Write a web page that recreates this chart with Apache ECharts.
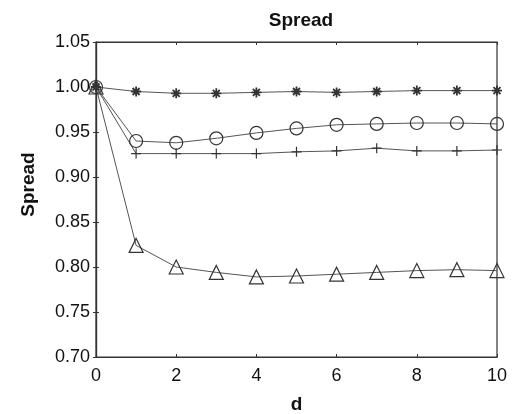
<!DOCTYPE html>
<html>
<head>
<meta charset="utf-8">
<script src="https://cdn.jsdelivr.net/npm/echarts@6/dist/echarts.min.js"></script>
<style>html,body{margin:0;padding:0;background:#fff}#c{width:512px;height:414px}</style>
</head>
<body>
<div id="c"></div>
<script>
var dValues = [0, 1, 2, 3, 4, 5, 6, 7, 8, 9, 10];
var starSeries = [1.000, 0.995, 0.993, 0.993, 0.994, 0.995, 0.994, 0.995, 0.996, 0.996, 0.996];
var circleSeries = [1.000, 0.940, 0.938, 0.943, 0.949, 0.954, 0.958, 0.959, 0.960, 0.960, 0.959];
var plusSeries = [1.000, 0.926, 0.926, 0.926, 0.926, 0.928, 0.929, 0.932, 0.929, 0.929, 0.930];
var triangleSeries = [1.000, 0.824, 0.800, 0.794, 0.789, 0.790, 0.792, 0.794, 0.796, 0.797, 0.796];
var xTicks = [0, 2, 4, 6, 8, 10];
var yTicks = [0.70, 0.75, 0.80, 0.85, 0.90, 0.95, 1.00, 1.05];

function pairs(vals) { return dValues.map(function (d, i) { return [d, vals[i]]; }); }

var lineColor = '#555';
var markColor = '#333';
var font = 'Liberation Sans, Arial, Helvetica, sans-serif';

function mkSeries(name, vals, symbol, size, bw) {
  return {
    name: name, type: 'line', data: pairs(vals),
    symbol: symbol, symbolSize: size, showAllSymbol: true,
    lineStyle: { color: lineColor, width: 1 },
    itemStyle: { color: 'transparent', borderColor: markColor, borderWidth: bw },
    emphasis: { disabled: true }, animation: false, z: 3
  };
}

var starPath = 'path://M0,-5L0,5M-5,0L5,0M-3.5,-3.5L3.5,3.5M-3.5,3.5L3.5,-3.5';
var plusPath = 'path://M0,-5L0,5M-5,0L5,0';

var chart = echarts.init(document.getElementById('c'));
chart.setOption({
  backgroundColor: '#fff',
  animation: false,
  title: {
    text: 'Spread', left: 296, top: 6, textAlign: 'center',
    textStyle: { fontFamily: font, fontWeight: 'bold', fontSize: 19, color: '#111' }
  },
  grid: { left: 96, right: 15, top: 42, bottom: 57, show: true, borderColor: '#333', borderWidth: 1.2,
    backgroundColor: 'transparent', containLabel: false, outerBoundsMode: 'none' },
  xAxis: [{
    type: 'value', min: 0, max: 10, interval: 2,
    name: 'd', nameLocation: 'middle', nameGap: 38,
    nameTextStyle: { fontFamily: font, fontWeight: 'bold', fontSize: 19, color: '#111' },
    axisLine: { show: true, lineStyle: { color: '#333', width: 1.2 } },
    axisTick: { show: true, inside: true, length: 3, lineStyle: { color: '#333' } },
    axisLabel: { fontFamily: font, fontSize: 18, color: '#111', margin: 10,
      formatter: function (v) { return xTicks.indexOf(v) >= 0 ? String(v) : ''; } },
    splitLine: { show: false }
  }, {
    type: 'value', min: 0, max: 10, interval: 2, position: 'top',
    axisLine: { show: true, lineStyle: { color: '#333', width: 1.2 } },
    axisTick: { show: true, inside: true, length: 3, lineStyle: { color: '#333' } },
    axisLabel: { show: false }, splitLine: { show: false }
  }],
  yAxis: [{
    type: 'value', min: 0.70, max: 1.05, interval: 0.05,
    name: 'Spread', nameLocation: 'middle', nameGap: 58,
    nameTextStyle: { fontFamily: font, fontWeight: 'bold', fontSize: 19, color: '#111', padding: [0, 0, 0, 30] },
    axisLine: { show: true, lineStyle: { color: '#333', width: 1.2 } },
    axisTick: { show: true, inside: true, length: 3, lineStyle: { color: '#333' } },
    axisLabel: { fontFamily: font, fontSize: 18, color: '#111', margin: 6,
      formatter: function (v) {
        var t = yTicks.filter(function (y) { return Math.abs(y - v) < 1e-9; });
        return t.length ? t[0].toFixed(2) : '';
      } },
    splitLine: { show: false }
  }, {
    type: 'value', min: 0.70, max: 1.05, interval: 0.05, position: 'right',
    axisLine: { show: true, lineStyle: { color: '#333', width: 1.2 } },
    axisTick: { show: true, inside: true, length: 3, lineStyle: { color: '#333' } },
    axisLabel: { show: false }, splitLine: { show: false }
  }],
  series: [
    mkSeries('star', starSeries, starPath, 10, 1.8),
    mkSeries('circle', circleSeries, 'circle', 13, 1.2),
    mkSeries('plus', plusSeries, plusPath, 10, 1.2),
    mkSeries('triangle', triangleSeries, 'triangle', 14, 1.2)
  ]
});
</script>
</body>
</html>
